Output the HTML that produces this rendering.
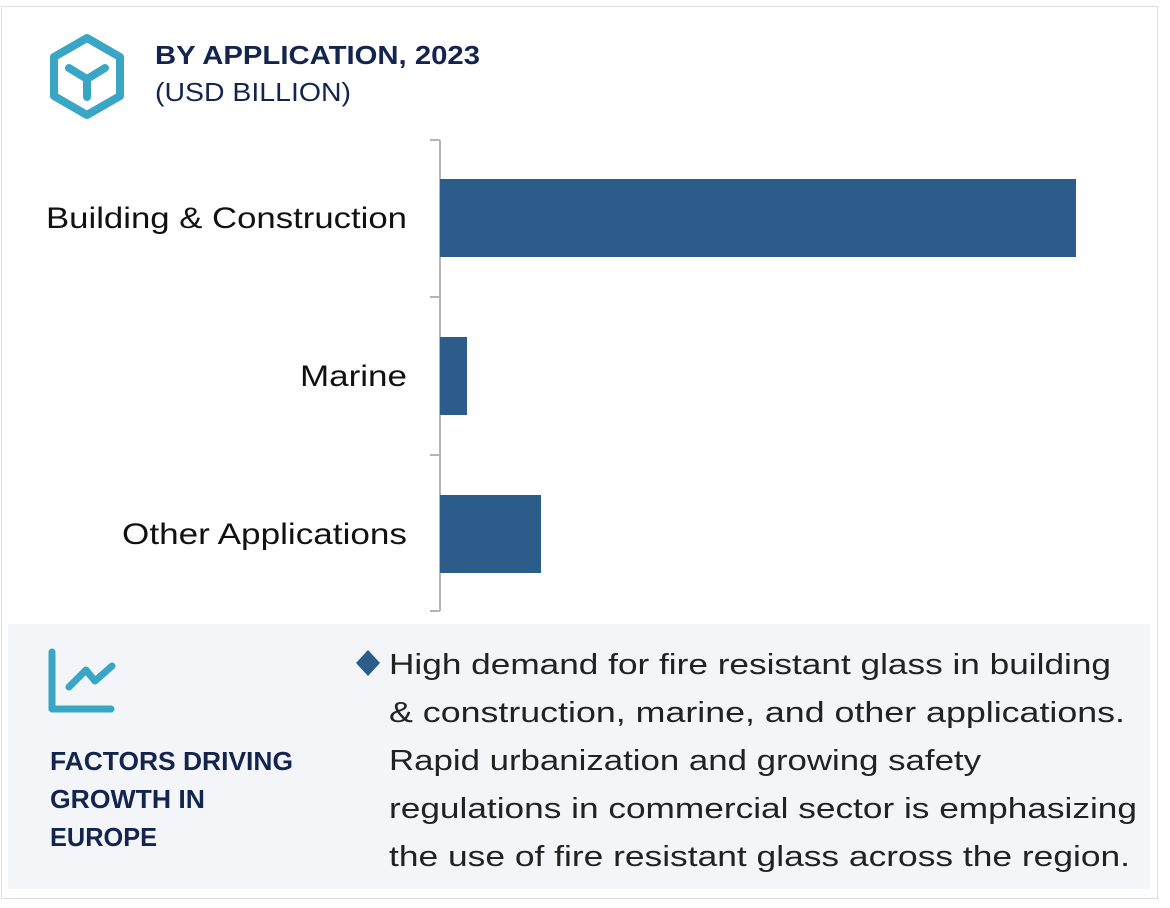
<!DOCTYPE html>
<html><head><meta charset="utf-8"><style>
html,body{margin:0;padding:0;background:#fff;}
svg{display:block;font-family:"Liberation Sans",sans-serif;}
</style></head><body>
<svg width="1170" height="908" viewBox="0 0 1170 908" xmlns="http://www.w3.org/2000/svg">
<rect x="1.5" y="6.5" width="1156" height="892" fill="#fff" stroke="#dcdce2" stroke-width="1"/>
<!-- hex icon -->
<polygon points="87,38 120,57 120,96 87,115 54,96 54,57" fill="none" stroke="#3aa6c6" stroke-width="8" stroke-linejoin="round"/>
<path d="M69,68 L87,79 L105,68 M87,79 L87,97" fill="none" stroke="#3aa6c6" stroke-width="8" stroke-linecap="round" stroke-linejoin="round"/>
<text x="155" y="64" font-size="26" font-weight="bold" fill="#13254f" textLength="325" lengthAdjust="spacingAndGlyphs">BY APPLICATION, 2023</text>
<text x="155" y="101" font-size="26" fill="#13254f" textLength="196" lengthAdjust="spacingAndGlyphs">(USD BILLION)</text>
<!-- axis -->
<g stroke="#b5b5b5" stroke-width="2" fill="none">
<line x1="440" y1="140" x2="440" y2="611"/>
<line x1="430" y1="140" x2="440" y2="140"/>
<line x1="430" y1="297" x2="440" y2="297"/>
<line x1="430" y1="455" x2="440" y2="455"/>
<line x1="430" y1="611" x2="440" y2="611"/>
</g>
<rect x="440" y="179" width="636" height="78" fill="#2b5c8a"/>
<rect x="440" y="337" width="27" height="78" fill="#2b5c8a"/>
<rect x="440" y="495" width="101" height="78" fill="#2b5c8a"/>
<g font-size="30" fill="#111" text-anchor="end">
<text x="407" y="228" textLength="361" lengthAdjust="spacingAndGlyphs">Building &amp; Construction</text>
<text x="407" y="386" textLength="107" lengthAdjust="spacingAndGlyphs">Marine</text>
<text x="407" y="544" textLength="285" lengthAdjust="spacingAndGlyphs">Other Applications</text>
</g>
<!-- panel -->
<rect x="8" y="624" width="1142" height="265" fill="#f3f5f9"/>
<path d="M52,652 L52,709 L111,709" fill="none" stroke="#3aa6c6" stroke-width="7" stroke-linecap="round" stroke-linejoin="round"/>
<path d="M69,687 L86,670 L95,681 L112,666" fill="none" stroke="#3aa6c6" stroke-width="7" stroke-linecap="round" stroke-linejoin="round"/>
<g font-size="26" font-weight="bold" fill="#13254f">
<text x="50" y="770" textLength="243" lengthAdjust="spacingAndGlyphs">FACTORS DRIVING</text>
<text x="50" y="808" textLength="155" lengthAdjust="spacingAndGlyphs">GROWTH IN</text>
<text x="50" y="846" textLength="107" lengthAdjust="spacingAndGlyphs">EUROPE</text>
</g>
<polygon points="368,650 380,663 368,676 356,663" fill="#2b5c8a"/>
<g font-size="29" fill="#222">
<text x="389" y="674" textLength="722" lengthAdjust="spacingAndGlyphs">High demand for fire resistant glass in building</text>
<text x="389" y="722" textLength="736" lengthAdjust="spacingAndGlyphs">&amp; construction, marine, and other applications.</text>
<text x="389" y="770" textLength="592" lengthAdjust="spacingAndGlyphs">Rapid urbanization and growing safety</text>
<text x="389" y="818" textLength="748" lengthAdjust="spacingAndGlyphs">regulations in commercial sector is emphasizing</text>
<text x="389" y="866" textLength="741" lengthAdjust="spacingAndGlyphs">the use of  fire resistant glass across the region.</text>
</g>
</svg>
</body></html>
